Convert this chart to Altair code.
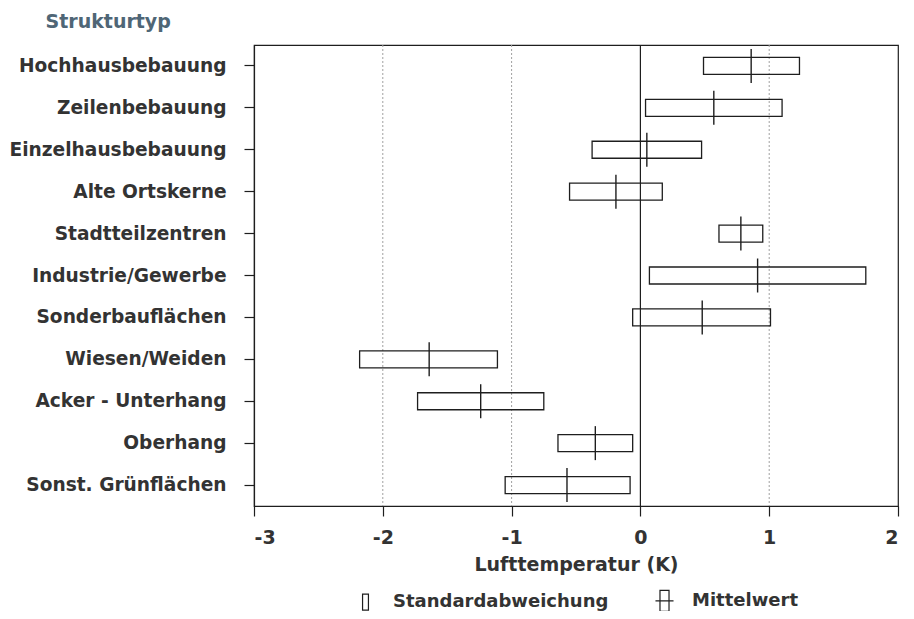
import altair as alt
import pandas as pd

categories = ["Hochhausbebauung", "Zeilenbebauung", "Einzelhausbebauung",
              "Alte Ortskerne", "Stadtteilzentren", "Industrie/Gewerbe",
              "Sonderbauflächen", "Wiesen/Weiden", "Acker - Unterhang",
              "Oberhang", "Sonst. Grünflächen"]
mean_vals = [0.86, 0.57, 0.05, -0.19, 0.78, 0.91, 0.48, -1.64, -1.24, -0.35, -0.57]
sd_low = [0.49, 0.04, -0.375, -0.55, 0.61, 0.07, -0.06, -2.18, -1.73, -0.64, -1.05]
sd_high = [1.235, 1.10, 0.475, 0.17, 0.95, 1.75, 1.01, -1.11, -0.75, -0.06, -0.08]
x_ticks = [-3, -2, -1, 0, 1, 2]
grid_lines = [-2, -1, 1]
legend_items = ["Standardabweichung", "Mittelwert"]

df = pd.DataFrame({"typ": categories, "mean": mean_vals, "low": sd_low, "high": sd_high})
zero_df = pd.DataFrame({"x": [0]})
grid_df = pd.DataFrame({"x": grid_lines})
leg_df = pd.DataFrame({"item": legend_items, "x": [0, 0], "typ": [categories[0]] * 2})

FONT = "DejaVu Sans"
TXT = "#333333"
INK = "#1e1e1e"

y_enc = alt.Y(
    "typ:N", sort=categories,
    scale=alt.Scale(domain=categories, paddingInner=0, paddingOuter=0),
    axis=alt.Axis(
        title="Strukturtyp", titleAngle=0, titleAlign="left", titleBaseline="alphabetic",
        titleX=-209, titleY=-18, titleFont=FONT, titleFontSize=19, titleFontWeight="bold",
        titleColor="#4f6676",
        labelFont=FONT, labelFontSize=18.6, labelFontWeight="bold", labelColor=TXT,
        labelPadding=18, tickSize=10, tickColor=INK, tickWidth=1.2,
        domainColor=INK, domainWidth=1.2, grid=False, labelLimit=400,
    ),
)

x_scale = alt.Scale(domain=[-3, 2], nice=False, zero=False)
x_axis = alt.Axis(
    title="Lufttemperatur (K)", values=x_ticks, labelExpr="datum.value + ''",
    titleFont=FONT, titleFontSize=19, titleFontWeight="bold", titleColor=TXT, titlePadding=8,
    labelFont=FONT, labelFontSize=19, labelFontWeight="bold", labelColor=TXT,
    labelPadding=12, tickSize=10, tickColor=INK, tickWidth=1.2,
    domainColor=INK, domainWidth=1.2, grid=False,
)

base = alt.Chart(df)

grid = alt.Chart(grid_df).mark_rule(color="#a0a0a0", strokeWidth=1, strokeDash=[2, 2]).encode(
    x=alt.X("x:Q", scale=x_scale)
)

zero_rule = alt.Chart(zero_df).mark_rule(color=INK, strokeWidth=1.2).encode(
    x=alt.X("x:Q", scale=x_scale)
)

boxes = base.mark_bar(size=17, fill="transparent", stroke=INK, strokeWidth=1.3).encode(
    x=alt.X("low:Q", scale=x_scale, axis=x_axis),
    x2="high:Q",
    y=y_enc,
)

means = base.mark_tick(size=34, thickness=1.4, color=INK, opacity=1).encode(
    x=alt.X("mean:Q", scale=x_scale),
    y=alt.Y("typ:N", sort=categories),
)

shape_paths = [
    "M-0.28,-0.76H0.28V0.76H-0.28Z",
    "M-0.43,-1H0.43V1H-0.43Z M-0.86,0H0.86",
]

legend_layer = alt.Chart(leg_df).mark_point(opacity=0, filled=False).encode(
    x=alt.X("x:Q", scale=x_scale),
    y=alt.Y("typ:N", sort=categories),
    shape=alt.Shape(
        "item:N", sort=legend_items,
        scale=alt.Scale(domain=legend_items, range=shape_paths),
        legend=alt.Legend(
            title=None, orient="none", direction="horizontal",
            legendX=100, legendY=544,
            symbolSize=441, symbolStrokeColor=INK, symbolFillColor="transparent",
            symbolStrokeWidth=1.2, symbolOpacity=1,
            labelFont=FONT, labelFontSize=18, labelFontWeight="bold", labelColor=TXT,
            labelOffset=16, columnPadding=44, labelLimit=400,
        ),
    ),
)

chart = alt.layer(grid, zero_rule, boxes, means, legend_layer).properties(
    width=644, height=461,
    background="white",
    autosize=alt.AutoSizeParams(type="none"),
    padding={"left": 246, "top": 37, "right": 8, "bottom": 105},
).configure_view(stroke=INK, strokeWidth=1.2)

chart.save("out.html", embed_options={"renderer": "svg", "actions": False})
